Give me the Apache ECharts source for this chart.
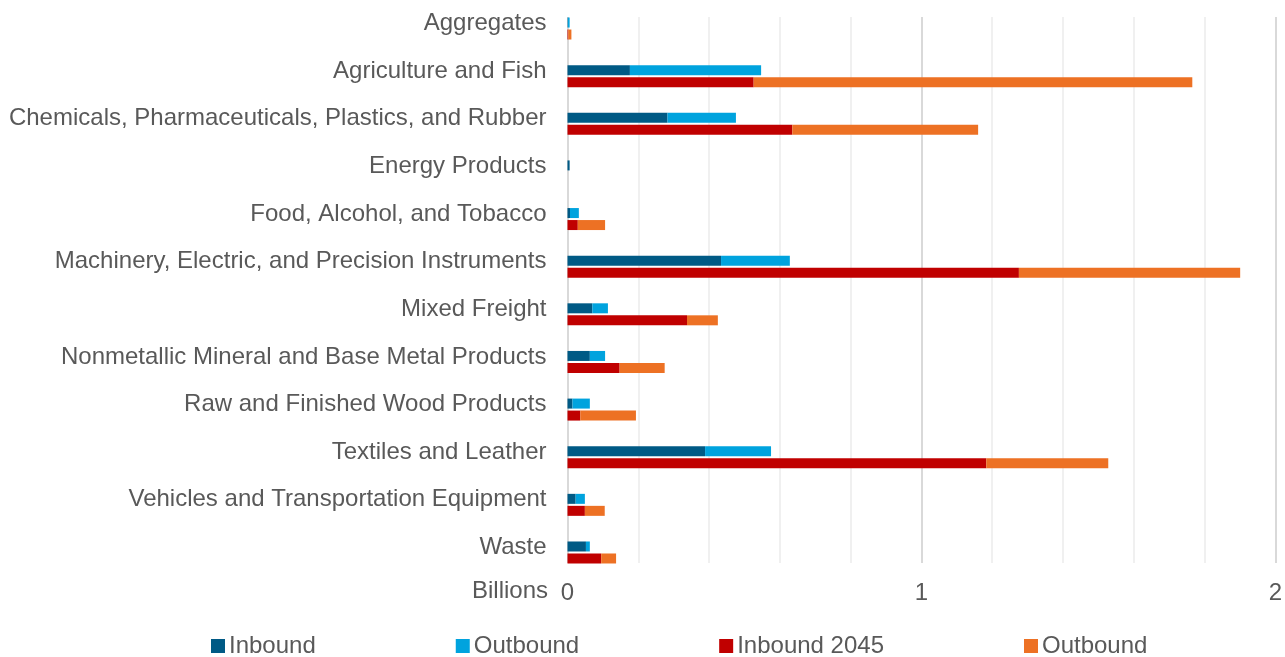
<!DOCTYPE html>
<html>
<head>
<meta charset="utf-8">
<title>Freight by Commodity</title>
<script src="https://cdn.jsdelivr.net/npm/echarts@6/dist/echarts.min.js"></script>
<style>
  html, body { margin: 0; padding: 0; background: #ffffff; }
  #chart { width: 1285px; height: 657px; }
</style>
</head>
<body>
<div id="chart"></div>
<script>
// Commodity groups, top to bottom
const categories = [
  'Aggregates',
  'Agriculture and Fish',
  'Chemicals, Pharmaceuticals, Plastics, and Rubber',
  'Energy Products',
  'Food, Alcohol, and Tobacco',
  'Machinery, Electric, and Precision Instruments',
  'Mixed Freight',
  'Nonmetallic Mineral and Base Metal Products',
  'Raw and Finished Wood Products',
  'Textiles and Leather',
  'Vehicles and Transportation Equipment',
  'Waste'
];

// Values in billions
const inbound      = [0.001, 0.176, 0.282, 0.006, 0.007, 0.433, 0.070, 0.063, 0.014, 0.388, 0.023, 0.052];
const outbound     = [0.005, 0.370, 0.193, 0.000, 0.025, 0.194, 0.044, 0.043, 0.049, 0.186, 0.026, 0.011];
const inbound2045  = [0.002, 0.525, 0.634, 0.000, 0.029, 1.273, 0.337, 0.147, 0.036, 1.181, 0.049, 0.095];
const outbound2045 = [0.009, 1.237, 0.524, 0.000, 0.077, 0.624, 0.087, 0.127, 0.157, 0.344, 0.056, 0.042];

const xTicks = ['0', '1', '2'];
const unitLabel = 'Billions';

const legendNames = {
  'Inbound': 'Inbound',
  'Outbound': 'Outbound',
  'Inbound 2045': 'Inbound 2045',
  'Outbound 2045': 'Outbound'
};

const textColor = '#595959';
const fontFamily = 'Liberation Sans, Arial, sans-serif';
const fontSize = 24;

const chart = echarts.init(document.getElementById('chart'), null, { renderer: 'canvas' });

const barCommon = {
  type: 'bar',
  xAxisIndex: 1,
  yAxisIndex: 1,
  barWidth: 10,
  barGap: '20%',
  emphasis: { disabled: true }
};

chart.setOption({
  animation: false,
  backgroundColor: '#ffffff',
  textStyle: { fontFamily: fontFamily },
  legend: {
    left: 206,
    top: 629,
    itemWidth: 14,
    itemHeight: 14,
    itemGap: 140,
    icon: 'rect',
    textStyle: { color: textColor, fontSize: fontSize, fontFamily: fontFamily, padding: [0, 0, 0, -1] },
    formatter: function (name) { return legendNames[name]; },
    data: ['Inbound', 'Outbound', 'Inbound 2045', 'Outbound 2045']
  },
  graphic: [{
    type: 'text',
    right: 1285 - 548,
    top: 579,
    style: { text: unitLabel, fill: textColor, font: fontSize + 'px ' + fontFamily, textAlign: 'right' }
  }],
  grid: [
    // gridline / value-axis panel
    { left: 567.5, right: 8.3, top: 17, bottom: 94 },
    // bar panel
    { left: 567.5, right: 8.3, top: 4.7, bottom: 80.7 }
  ],
  xAxis: [
    {
      gridIndex: 0,
      type: 'value',
      min: 0,
      max: 2,
      interval: 1,
      axisLine: { show: false },
      axisTick: { show: false },
      axisLabel: {
        color: textColor,
        fontSize: fontSize,
        fontFamily: fontFamily,
        margin: 18,
        formatter: function (v) { return xTicks[Math.round(v)]; }
      },
      splitLine: { show: true, lineStyle: { color: '#d9d9d9', width: 2 } },
      minorTick: { show: false, splitNumber: 5 },
      minorSplitLine: { show: true, lineStyle: { color: '#ececec', width: 1.5 } }
    },
    {
      gridIndex: 1,
      type: 'value',
      min: 0,
      max: 2,
      show: false,
      splitLine: { show: false }
    }
  ],
  yAxis: [
    {
      gridIndex: 0,
      type: 'category',
      data: categories,
      inverse: true,
      show: false
    },
    {
      gridIndex: 1,
      type: 'category',
      data: categories,
      inverse: true,
      axisLine: { show: false },
      axisTick: { show: false },
      splitLine: { show: false },
      axisLabel: {
        color: textColor,
        fontSize: fontSize,
        fontFamily: fontFamily,
        margin: 21,
        verticalAlign: 'bottom',
        lineHeight: 10
      }
    }
  ],
  series: [
    Object.assign({}, barCommon, { name: 'Inbound', stack: 'current', data: inbound, itemStyle: { color: '#005a85' } }),
    Object.assign({}, barCommon, { name: 'Outbound', stack: 'current', data: outbound, itemStyle: { color: '#00a3de' } }),
    Object.assign({}, barCommon, { name: 'Inbound 2045', stack: 'future', data: inbound2045, itemStyle: { color: '#c00000' } }),
    Object.assign({}, barCommon, { name: 'Outbound 2045', stack: 'future', data: outbound2045, itemStyle: { color: '#ed7124' } })
  ]
});
</script>
</body>
</html>
